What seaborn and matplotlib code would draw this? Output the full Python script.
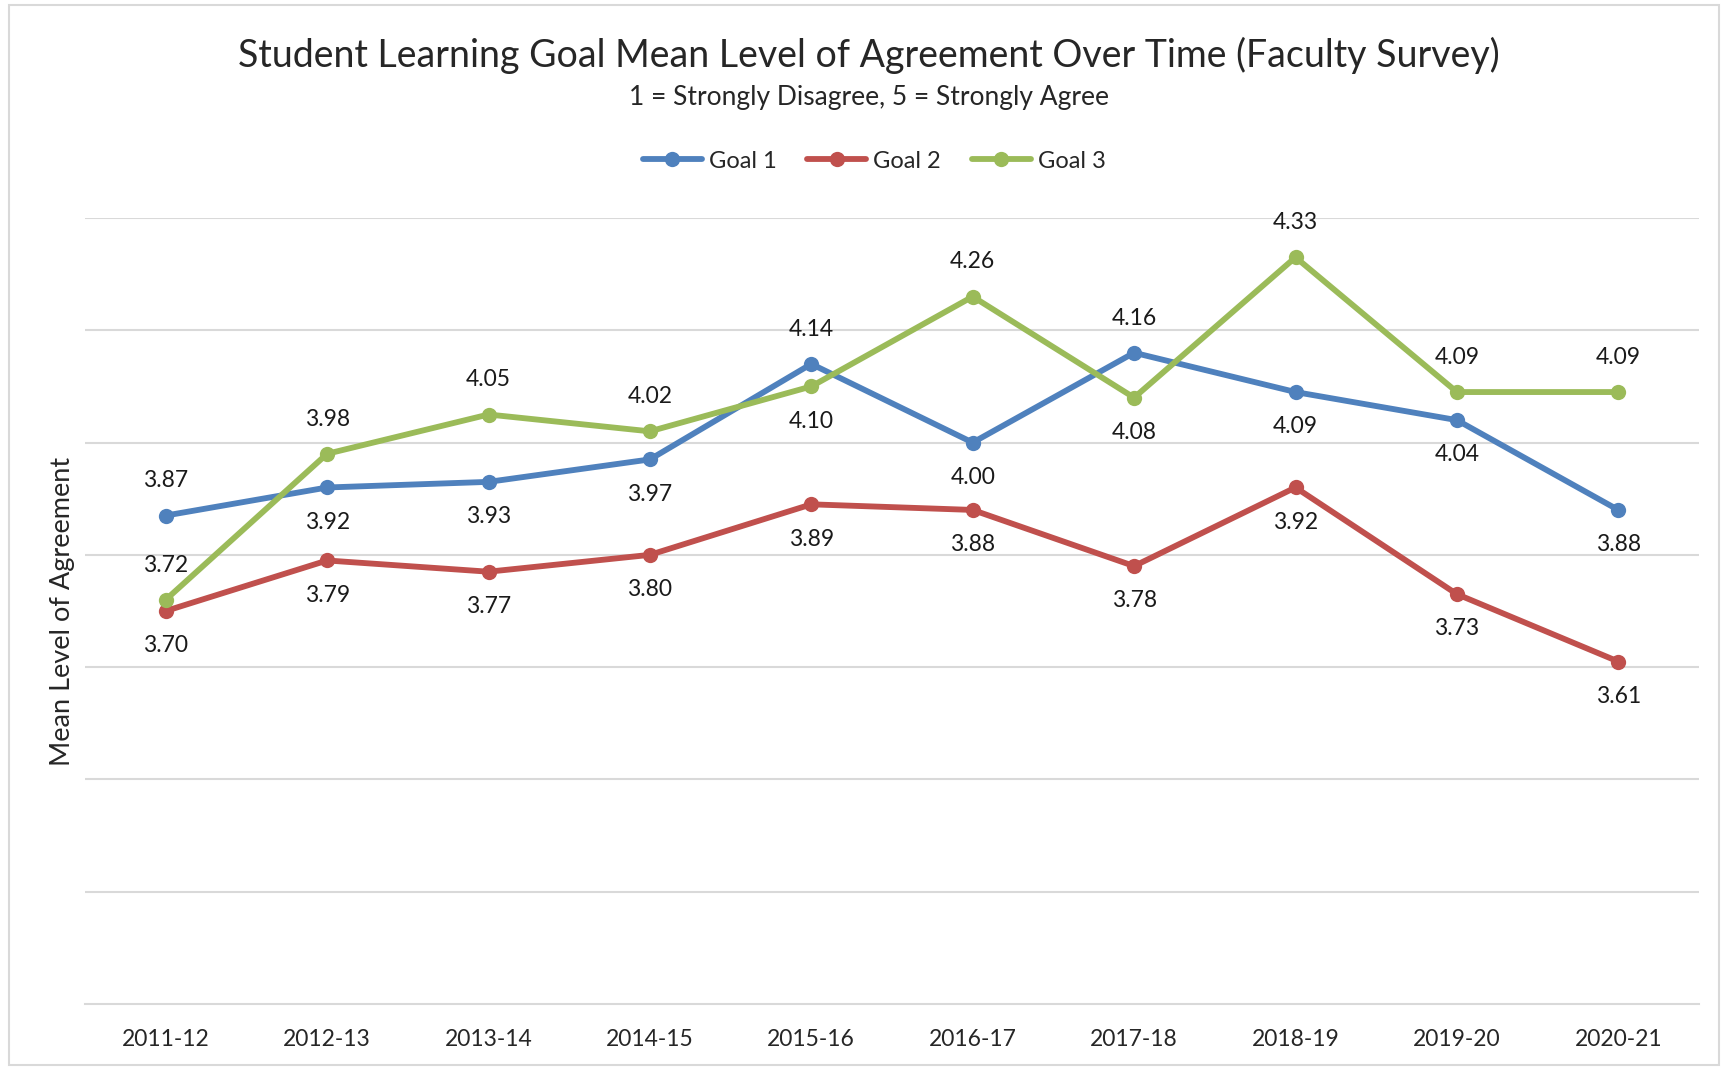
import matplotlib
matplotlib.use("Agg")
import matplotlib.pyplot as plt
import seaborn as sns
import pandas as pd

years = ["2011-12", "2012-13", "2013-14", "2014-15", "2015-16",
         "2016-17", "2017-18", "2018-19", "2019-20", "2020-21"]
goal1 = [3.87, 3.92, 3.93, 3.97, 4.14, 4.00, 4.16, 4.09, 4.04, 3.88]
goal2 = [3.70, 3.79, 3.77, 3.80, 3.89, 3.88, 3.78, 3.92, 3.73, 3.61]
goal3 = [3.72, 3.98, 4.05, 4.02, 4.10, 4.26, 4.08, 4.33, 4.09, 4.09]

# label placement: 1 = above the point, -1 = below
pos1 = [1, -1, -1, -1, 1, -1, 1, -1, -1, -1]
pos2 = [-1] * 10
pos3 = [1, 1, 1, 1, -1, 1, -1, 1, 1, 1]

colors = {"Goal 1": "#4F81BD", "Goal 2": "#C0504D", "Goal 3": "#9BBB59"}

df = pd.DataFrame({
    "year": years * 3,
    "value": goal1 + goal2 + goal3,
    "goal": ["Goal 1"] * 10 + ["Goal 2"] * 10 + ["Goal 3"] * 10,
})

sns.set_style("white")
plt.rcParams["font.family"] = ["Lato", "DejaVu Sans"]

fig = plt.figure(figsize=(17.28, 10.70), dpi=100)
ax = fig.add_axes([85 / 1728, 1 - 1004 / 1070, (1699 - 85) / 1728, (1004 - 218) / 1070])

sns.lineplot(data=df, x="year", y="value", hue="goal", palette=colors,
             marker="o", markersize=11, markeredgewidth=0, linewidth=4.2,
             sort=False, ax=ax, legend=False)

for vals, pos in [(goal1, pos1), (goal2, pos2), (goal3, pos3)]:
    for i, (v, p) in enumerate(zip(vals, pos)):
        ax.annotate(f"{v:.2f}", (i, v), xytext=(0, 25 * p), textcoords="offset points",
                    ha="center", va="center", fontsize=16.5, color="#1a1a1a")

ax.set_ylim(3.0, 4.4)
ax.set_xlim(-0.5, 9.5)
ax.set_yticks([3.2, 3.4, 3.6, 3.8, 4.0, 4.2, 4.4])
ax.set_yticklabels([])
ax.tick_params(axis="y", length=0)
ax.grid(axis="y", color="#D9D9D9", linewidth=1.5)
ax.set_axisbelow(True)
for s in ["top", "right", "left"]:
    ax.spines[s].set_visible(False)
ax.spines["bottom"].set_color("#D9D9D9")
ax.spines["bottom"].set_linewidth(1.5)

ax.set_xticks(range(10))
ax.set_xticklabels(years, fontsize=16.5)
ax.set_xticks([i - 0.5 for i in range(11)], minor=True)
ax.tick_params(axis="x", which="major", length=0, pad=18)
ax.tick_params(axis="x", which="minor", length=10, width=1.2, color="#D9D9D9")
ax.set_xlabel("")
ax.set_ylabel("Mean Level of Agreement", fontsize=19.5, labelpad=4)

fig.text(0.503, 1 - 55 / 1070, "Student Learning Goal Mean Level of Agreement Over Time (Faculty Survey)",
         ha="center", va="center", fontsize=27)
fig.text(0.503, 1 - 98 / 1070, "1 = Strongly Disagree, 5 = Strongly Agree",
         ha="center", va="center", fontsize=19)

handles = [plt.Line2D([], [], color=c, marker="o", markersize=11, markeredgewidth=0, linewidth=4.2)
           for c in colors.values()]
fig.legend(handles, list(colors.keys()), loc="center", ncol=3, frameon=False,
           bbox_to_anchor=(874 / 1728, 1 - 161 / 1070), fontsize=17,
           handlelength=2.5, handletextpad=0.3, columnspacing=1.3)

fig.patches.append(plt.Rectangle((0.005, 0.005), 0.99, 0.99, transform=fig.transFigure,
                                 fill=False, edgecolor="#D9D9D9", linewidth=1.5))

fig.savefig("out.png", dpi=100, facecolor="white")
